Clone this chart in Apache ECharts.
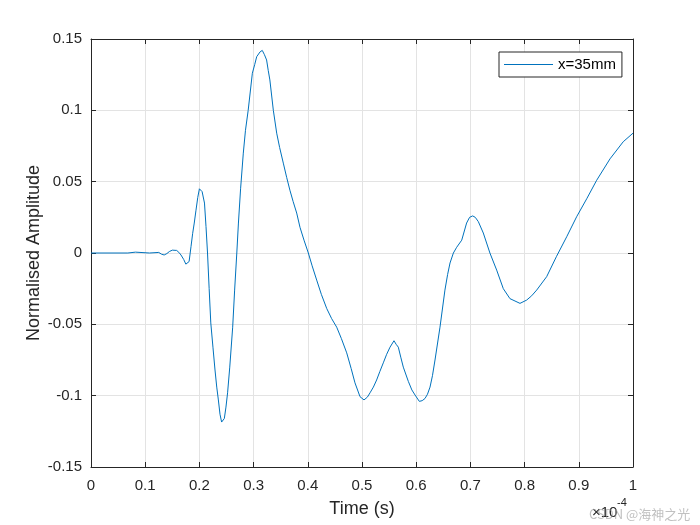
<!DOCTYPE html>
<html>
<head>
<meta charset="utf-8">
<script src="https://cdn.jsdelivr.net/npm/echarts@6/dist/echarts.min.js"></script>
<style>
html,body{margin:0;padding:0;background:#fff;}
#chart{width:700px;height:525px;}
</style>
</head>
<body>
<div id="chart"></div>
<script>
// Time in units of 1e-4 s
var timeVals = [0,0.068,0.070,0.082,0.084,0.108,0.110,0.125,0.130,0.135,0.140,0.1445,0.150,0.158,0.162,0.166,0.171,0.175,0.178,0.181,0.1845,0.1876,0.1905,0.1937,0.197,0.200,0.2017,0.205,0.2094,0.2122,0.215,0.218,0.221,0.225,0.2288,0.232,0.235,0.238,0.241,0.2435,0.246,0.249,0.252,0.256,0.2614,0.265,0.269,0.272,0.276,0.281,0.285,0.290,0.2977,0.302,0.3057,0.309,0.312,0.316,0.320,0.324,0.327,0.330,0.3364,0.3426,0.348,0.3548,0.361,0.367,0.373,0.3795,0.3856,0.393,0.401,0.408,0.4164,0.425,0.435,0.444,0.4533,0.462,0.4718,0.480,0.487,0.4963,0.5037,0.510,0.5148,0.521,0.527,0.533,0.5393,0.5455,0.5517,0.559,0.563,0.567,0.5715,0.5762,0.5855,0.592,0.5978,0.6058,0.611,0.6162,0.6208,0.6255,0.630,0.6347,0.6439,0.653,0.658,0.6624,0.6686,0.6747,0.684,0.693,0.6985,0.7042,0.709,0.7146,0.7238,0.736,0.7485,0.7607,0.773,0.7915,0.8038,0.813,0.8223,0.8407,0.859,0.8777,0.896,0.9146,0.933,0.9576,0.982,1.0];
var amplitude = [0,0,0.0006,0.0006,0,0,0.0005,0.0004,-0.0008,-0.0014,-0.0004,0.001,0.002,0.0018,0.0005,-0.0014,-0.0045,-0.0078,-0.0084,-0.006,0.0044,0.0138,0.021,0.030,0.039,0.045,0.046,0.043,0.035,0.0185,0,-0.025,-0.049,-0.066,-0.082,-0.094,-0.103,-0.113,-0.1185,-0.119,-0.116,-0.108,-0.098,-0.080,-0.052,-0.026,0,0.021,0.045,0.070,0.086,0.100,0.126,0.132,0.1376,0.138,0.141,0.142,0.139,0.1353,0.128,0.1213,0.100,0.084,0.074,0.063,0.053,0.044,0.036,0.028,0.018,0.009,0,-0.009,-0.019,-0.029,-0.039,-0.046,-0.052,-0.060,-0.070,-0.081,-0.091,-0.1007,-0.103,-0.101,-0.098,-0.094,-0.089,-0.083,-0.077,-0.071,-0.066,-0.0615,-0.064,-0.066,-0.073,-0.080,-0.090,-0.096,-0.0995,-0.104,-0.1035,-0.102,-0.099,-0.094,-0.086,-0.075,-0.052,-0.026,-0.015,-0.007,0,0.004,0.009,0.021,0.025,0.026,0.025,0.022,0.014,0,-0.012,-0.025,-0.032,-0.0353,-0.033,-0.030,-0.026,-0.0166,-0.0023,0.0114,0.0254,0.038,0.051,0.066,0.078,0.084];
var seriesName = 'x=35mm';
var xTicks = {min: 0, max: 1, step: 0.1};
var yTicks = {min: -0.15, max: 0.15, step: 0.05};

var data = timeVals.map(function (t, i) { return [t, amplitude[i]]; });
var FONT = '"Liberation Sans", Arial, Helvetica, sans-serif';
var AX = '#262626';
function fmt(v) { return String(parseFloat(v.toFixed(4))); }

var chart = echarts.init(document.getElementById('chart'), null, {renderer: 'canvas'});
var baseAxis = {
  type: 'value',
  axisLine: {show: true, onZero: false, lineStyle: {color: AX, width: 1}},
  axisTick: {show: true, inside: true, length: 5, lineStyle: {color: AX, width: 1}},
  splitLine: {show: false},
  axisLabel: {show: false}
};
chart.setOption({
  animation: false,
  backgroundColor: '#ffffff',
  grid: {left: 91, right: 67, top: 39, bottom: 58, containLabel: false},
  xAxis: [
    Object.assign({}, baseAxis, {
      position: 'bottom', min: xTicks.min, max: xTicks.max, interval: xTicks.step,
      splitLine: {show: true, lineStyle: {color: '#e3e3e3', width: 1}},
      axisLabel: {show: true, color: AX, fontFamily: FONT, fontSize: 15, margin: 11, formatter: fmt}
    }),
    Object.assign({}, baseAxis, {
      position: 'top', min: xTicks.min, max: xTicks.max, interval: xTicks.step
    })
  ],
  yAxis: [
    Object.assign({}, baseAxis, {
      position: 'left', min: yTicks.min, max: yTicks.max, interval: yTicks.step,
      splitLine: {show: true, lineStyle: {color: '#e3e3e3', width: 1}},
      axisLabel: {show: true, color: AX, fontFamily: FONT, fontSize: 15, margin: 9, formatter: fmt}
    }),
    Object.assign({}, baseAxis, {
      position: 'right', min: yTicks.min, max: yTicks.max, interval: yTicks.step
    })
  ],
  legend: {
    show: true,
    left: 499, top: 52,
    orient: 'vertical',
    backgroundColor: '#ffffff',
    borderColor: AX, borderWidth: 1,
    padding: [4, 6, 4, 5],
    itemWidth: 49, itemHeight: 1, itemGap: 5,
    icon: 'rect',
    itemStyle: {color: '#0072BD', borderWidth: 0},
    textStyle: {color: '#000', fontFamily: FONT, fontSize: 15, lineHeight: 17, padding: [0, 0, 0, 0]},
    data: [{name: seriesName, icon: 'rect'}]
  },
  series: [{
    name: seriesName,
    type: 'line',
    xAxisIndex: 0, yAxisIndex: 0,
    data: data,
    symbol: 'none',
    showSymbol: false,
    lineStyle: {color: '#0072BD', width: 1},
    itemStyle: {color: '#0072BD'},
    emphasis: {disabled: true}
  }],
  graphic: [
    {type: 'text', x: 34, y: 253, rotation: Math.PI / 2,
     style: {text: 'Normalised Amplitude', fill: AX, font: '18px ' + FONT, textAlign: 'center', textVerticalAlign: 'middle'}},
    {type: 'text', x: 362, y: 509,
     style: {text: 'Time (s)', fill: AX, font: '18px ' + FONT, textAlign: 'center', textVerticalAlign: 'middle'}},
    {type: 'text', x: 592, y: 513,
     style: {text: '×10', fill: AX, font: '15px ' + FONT, textAlign: 'left', textVerticalAlign: 'middle'}},
    {type: 'text', x: 617, y: 503,
     style: {text: '-4', fill: AX, font: '11px ' + FONT, textAlign: 'left', textVerticalAlign: 'middle'}},
    {type: 'text', x: 589, y: 514,
     style: {text: 'CSDN @海神之光', fill: 'rgba(150,150,150,0.6)', font: '13px "Noto Sans CJK SC", ' + FONT, textAlign: 'left', textVerticalAlign: 'middle'}}
  ]
});
</script>
</body>
</html>
